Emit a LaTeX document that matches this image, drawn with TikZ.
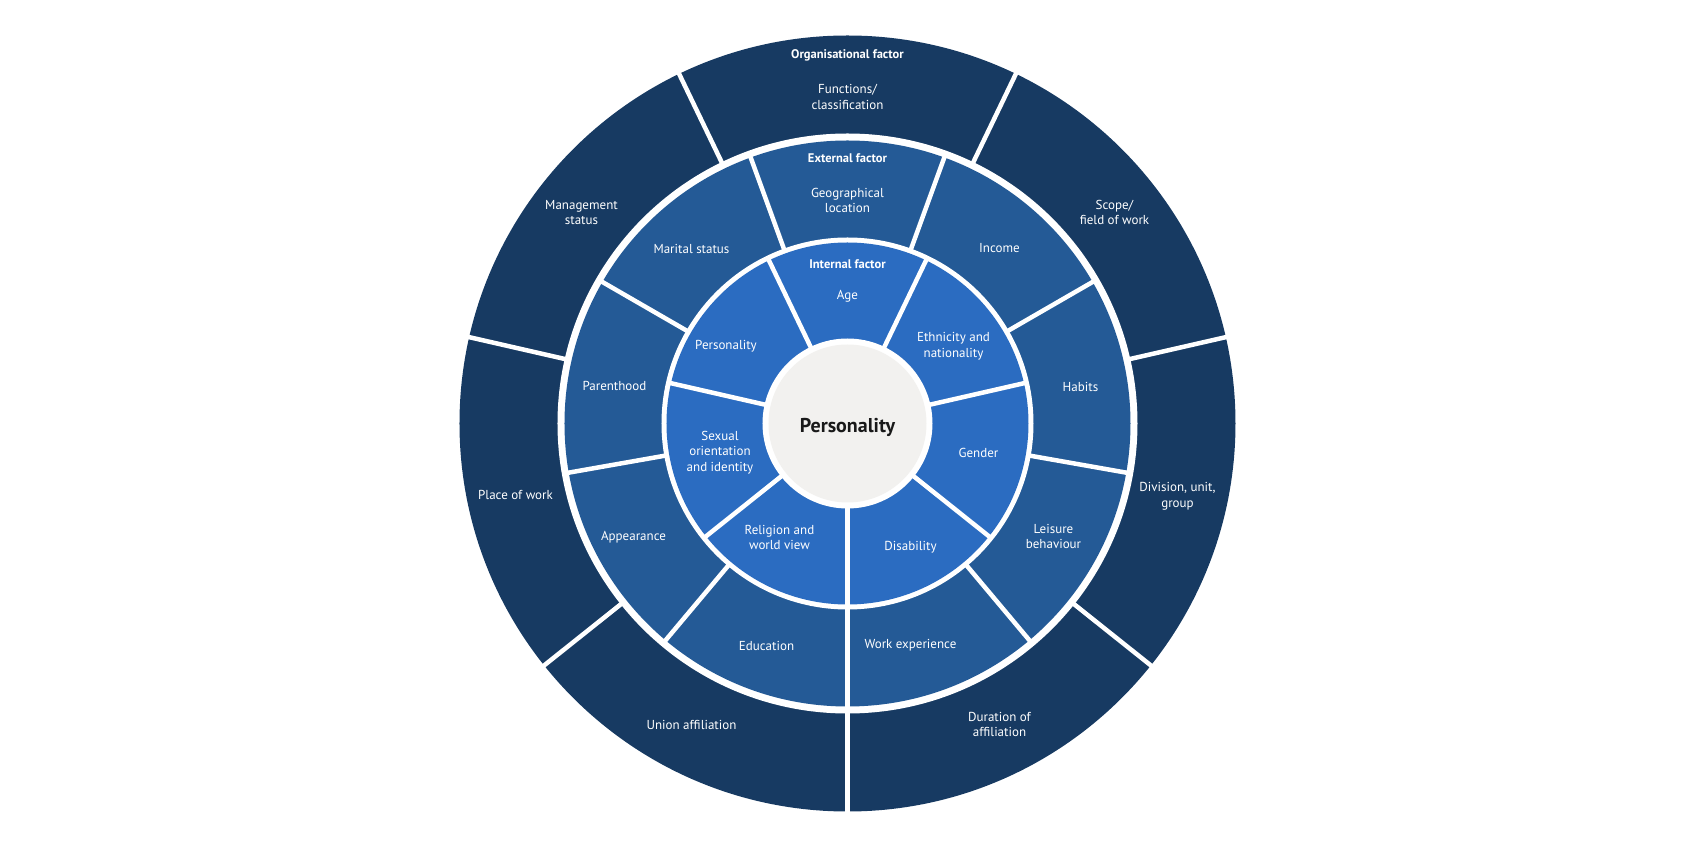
\documentclass[tikz,border=0pt]{standalone}
\usepackage{fontspec}
\setmainfont{PT Sans}
\definecolor{outerblue}{HTML}{173A62}
\definecolor{midblue}{HTML}{245A96}
\definecolor{innerblue}{HTML}{2B6CC1}
\definecolor{hubgray}{HTML}{F2F1EF}
\tikzset{
    gap/.style={white, line width=4.5pt},
    lbl/.style={text=white, align=center, inner sep=0pt, font=\fontsize{13}{15.7}\selectfont},
    hdr/.style={lbl, font=\bfseries\fontsize{12.5}{15}\selectfont},
}
\begin{document}
\begin{tikzpicture}[x=1pt, y=1pt]
        \useasboundingbox (-847.5, -426.5) rectangle (852.5, 423.5);
        \fill[outerblue] (0, 0) circle[radius=388pt];
        \fill[white] (0, 0) circle[radius=290pt];
        \fill[midblue] (0, 0) circle[radius=283pt];
        \fill[white] (0, 0) circle[radius=186pt];
        \fill[innerblue] (0, 0) circle[radius=181pt];
        \fill[white] (0, 0) circle[radius=85pt];
        \fill[hubgray] (0, 0) circle[radius=79pt];
        \foreach \k in {0, 1, ..., 6} {
            \pgfmathsetmacro\a{64.2857 + 51.4286 * \k}
            \draw[gap] (\a:289pt) -- (\a:392pt);
            \draw[gap] (\a:84pt) -- (\a:182pt);
        };
        \foreach \k in {0, 1, ..., 8} {
            \pgfmathsetmacro\a{30 + 40 * \k}
            \draw[gap] (\a:185pt) -- (\a:284pt);
        };
        \node[font=\bfseries\fontsize{20}{24}\selectfont, text=black!90] (hub) at (0, -4) {Personality};
        \node[hdr] (orghdr) at (0, 368.5) {Organisational factor};
        \node[hdr] (exthdr) at (0, 265.5) {External factor};
        \node[hdr] (inthdr) at (0, 159) {Internal factor};
        \foreach \x/\y/\t [count=\n] in {0/326.5/{Functions/\\classification}, 267/211/{Scope/\\field of work},
            330/-72.5/{Division, unit,\\group}, 152/-301/{Duration of\\affiliation}, -156/-301/{Union affiliation},
            -332/-71.5/{Place of work}, -266/211/{Management\\status}}
            \node[lbl] (o\n) at (\x, \y) {\t};
        \foreach \x/\y/\t [count=\n] in {0/223/{Geographical\\location}, 152/175/{Income}, 233/37/{Habits},
            206/-113/{Leisure\\behaviour}, 63/-222/{Work experience}, -81/-222/{Education},
            -214/-114/{Appearance}, -233/38/{Parenthood}, -156/175/{Marital status}}
            \node[lbl] (m\n) at (\x, \y) {\t};
        \foreach \x/\y/\t [count=\n] in {0/127/{Age}, 106/77/{Ethnicity and\\nationality}, 131/-29/{Gender},
            63/-124/{Disability}, -68/-114/{Religion and\\world view}, -127.5/-29/{Sexual\\orientation\\and identity},
            -121.5/77/{Personality}}
            \node[lbl] (i\n) at (\x, \y) {\t};
    \end{tikzpicture}
\end{document}
